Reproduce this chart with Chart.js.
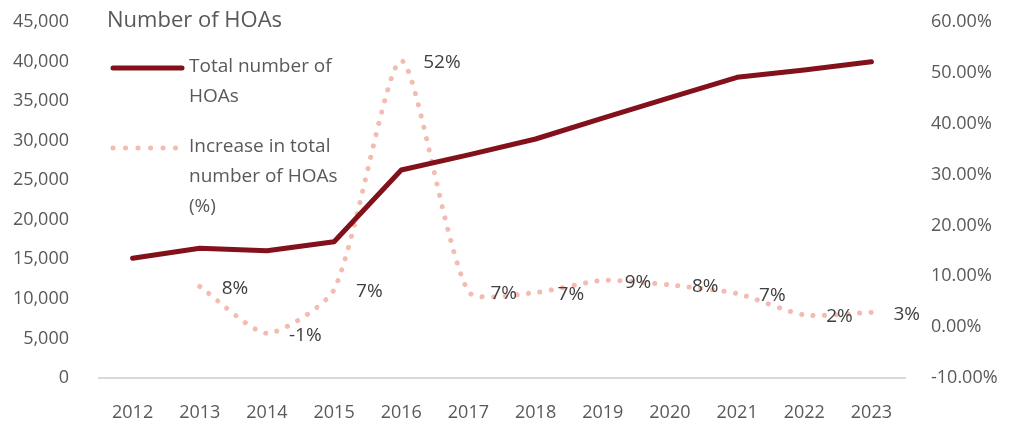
<!DOCTYPE html>
<html>
<head>
<meta charset="utf-8">
<script src="https://cdn.jsdelivr.net/npm/chart.js@4"></script>
<style>
  body { margin: 0; background: #fff; }
  #wrap { width: 1009px; height: 424px; }
</style>
</head>
<body>
<div id="wrap"><canvas id="hoaChart"></canvas></div>

<script>
    // Datele graficului
    var years = ['2012', '2013', '2014', '2015', '2016', '2017', '2018', '2019', '2020', '2021', '2022', '2023'];
    var totalHoas = [15130, 16390, 16090, 17230, 26290, 28200, 30210, 32860, 35430, 38010, 38930, 39980];
    var increasePct = [null, 8.0, -1.2, 7.4, 52.4, 7.0, 6.8, 9.2, 8.3, 6.6, 2.4, 2.9];
    var leftTicks = [0, 45000, 5000];
    var rightTicks = [-10, 60, 10];

    var textColor = '#595959';
    var fontName = '"Open Sans", Lato, sans-serif';

    // Titlu, legendă și etichete de date desenate pe canvas
    var extrasPlugin = {
        id: 'extras',
        afterDatasetsDraw: function (chart) {
            var ctx = chart.ctx;
            ctx.save();

            // etichete pentru procente
            var meta = chart.getDatasetMeta(1);
            ctx.fillStyle = '#404040';
            ctx.font = '19px ' + fontName;
            ctx.textAlign = 'left';
            ctx.textBaseline = 'middle';
            meta.data.forEach(function (pt, i) {
                var v = increasePct[i];
                if (v === null) return;
                ctx.fillText(Math.round(v) + '%', pt.x + 22, pt.y + 2);
            });

            // titlul
            ctx.fillStyle = textColor;
            ctx.font = '22px ' + fontName;
            ctx.fillText('Number of HOAs', 107, 21);

            // legenda
            ctx.font = '19px ' + fontName;
            ctx.strokeStyle = '#82111b';
            ctx.lineWidth = 5;
            ctx.lineCap = 'round';
            ctx.beginPath();
            ctx.moveTo(113, 68);
            ctx.lineTo(182, 68);
            ctx.stroke();
            ctx.fillText('Total number of', 189, 67);
            ctx.fillText('HOAs', 189, 97);

            ctx.strokeStyle = '#f2bcb0';
            ctx.setLineDash([0.1, 12.4]);
            ctx.beginPath();
            ctx.moveTo(113, 148);
            ctx.lineTo(178, 148);
            ctx.stroke();
            ctx.setLineDash([]);
            ctx.fillText('Increase in total', 189, 147);
            ctx.fillText('number of HOAs', 189, 177);
            ctx.fillText('(%)', 189, 207);

            ctx.restore();
        }
    };

    // lățime fixă pentru axele verticale, fără padding suplimentar sus/jos
    function fixAxis(width) {
        return function (s) {
            s.width = width;
            s.paddingTop = 0;
            s.paddingBottom = 0;
        };
    }

    var ctx = document.getElementById('hoaChart').getContext('2d');
    var hoaChart = new Chart(ctx, {
        type: 'line',
        data: {
            labels: years,
            datasets: [{
                label: 'Total number of HOAs',
                data: totalHoas,
                yAxisID: 'y',
                borderColor: '#82111b',
                borderWidth: 5,
                borderCapStyle: 'round',
                borderJoinStyle: 'round',
                pointRadius: 0,
                tension: 0
            }, {
                label: 'Increase in total number of HOAs (%)',
                data: increasePct,
                yAxisID: 'y1',
                borderColor: '#f2bcb0',
                borderWidth: 5,
                borderCapStyle: 'round',
                borderDash: [0.1, 11.5],
                pointRadius: 0,
                tension: 0.22
            }]
        },
        options: {
            responsive: true,
            maintainAspectRatio: false,
            animation: false,
            layout: { padding: { top: 22, left: 0, right: 0, bottom: 0 } },
            plugins: {
                legend: { display: false },
                tooltip: { enabled: false }
            },
            scales: {
                x: {
                    offset: true,
                    grid: { display: false, offset: true },
                    border: { display: true, color: '#d9d9d9', width: 2 },
                    ticks: {
                        color: textColor,
                        font: { family: fontName, size: 18 },
                        padding: 16,
                        maxRotation: 0
                    },
                    afterFit: function (s) { s.height = 46; s.paddingLeft = 0; s.paddingRight = 0; }
                },
                y: {
                    position: 'left',
                    min: leftTicks[0],
                    max: leftTicks[1],
                    grid: { display: false },
                    border: { display: false },
                    ticks: {
                        stepSize: leftTicks[2],
                        color: textColor,
                        font: { family: fontName, size: 18 },
                        padding: 22,
                        callback: function (v) { return v.toLocaleString('en-US'); }
                    },
                    afterFit: fixAxis(99)
                },
                y1: {
                    position: 'right',
                    min: rightTicks[0],
                    max: rightTicks[1],
                    grid: { display: false },
                    border: { display: false },
                    ticks: {
                        stepSize: rightTicks[2],
                        color: textColor,
                        font: { family: fontName, size: 18 },
                        padding: 18,
                        callback: function (v) { return v.toFixed(2) + '%'; }
                    },
                    afterFit: fixAxis(104)
                }
            }
        },
        plugins: [extrasPlugin]
    });
</script>
</body>
</html>
